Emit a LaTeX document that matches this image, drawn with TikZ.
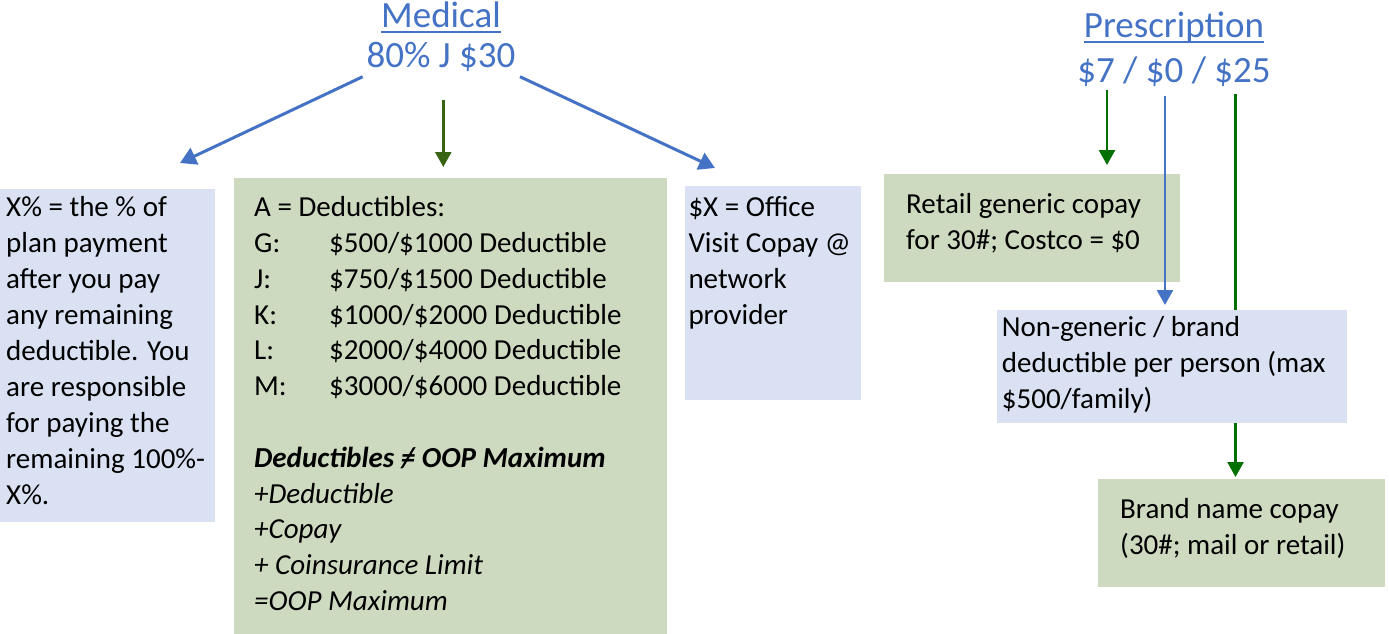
\documentclass[tikz,border=0pt]{standalone}
\usepackage{fontspec}
\setmainfont{Carlito}
\usetikzlibrary{arrows.meta}
\definecolor{mblue}{RGB}{68,114,196}
\definecolor{boxblue}{RGB}{217,225,242}
\definecolor{boxgreen}{RGB}{206,218,192}
\definecolor{dgreen}{RGB}{56,100,20}
\definecolor{rgreen}{RGB}{0,112,0}
\newcommand\myul[1]{\leavevmode\setbox0\hbox{#1}\rlap{\rule[-6pt]{\wd0}{2pt}}\box0}
\newcommand\myneq{\ooalign{=\cr\hfil/\hfil}}
\begin{document}
\begin{tikzpicture}[x=1pt,y=-1pt,
  bluebox/.style={fill=boxblue, draw=none, anchor=north west, inner sep=0pt},
  greenbox/.style={fill=boxgreen, draw=none, anchor=north west, inner sep=0pt},
  body/.style={anchor=base west, inner sep=0pt, text=black, font=\fontsize{29}{36}\selectfont},
  title/.style={anchor=base, inner sep=0pt, text=mblue},
  barr/.style={draw=mblue, line width=3pt, -{Triangle[width=18pt,length=16pt]}},
  garr/.style={draw=dgreen, line width=2.5pt, -{Triangle[width=16pt,length=15pt]}},
  rarr/.style={draw=rgreen, line width=2.5pt, -{Triangle[width=16pt,length=15pt]}},
  rbarr/.style={draw=mblue, line width=2.5pt, -{Triangle[width=16pt,length=15pt]}},
  rline/.style={draw=rgreen, line width=2.5pt},
]
\useasboundingbox (0,0) rectangle (1389,634);

% titles
\node[title, font=\fontsize{37}{40}\selectfont] (med) at (441,27.3)
  {\parbox[t]{240pt}{\centering\myul{Medical}\\80\% J \$30}};
\node[title, font=\fontsize{37}{45.7}\selectfont] (rx) at (1174,37.3)
  {\parbox[t]{260pt}{\centering\myul{Prescription}\\\$7 / \$0 / \$25}};

% boxes
\node[bluebox, minimum width=215pt, minimum height=333.4pt] (b1) at (0,188.3) {};
\node[greenbox, minimum width=433pt, minimum height=457pt] (b2) at (234,177.3) {};
\node[bluebox, minimum width=176pt, minimum height=214pt] (b3) at (685,186) {};
\node[greenbox, minimum width=296pt, minimum height=107.7pt] (b4) at (884,174) {};
\node[bluebox, minimum width=350.3pt, minimum height=113pt] (b5) at (996.7,310) {};
\node[greenbox, minimum width=287pt, minimum height=108pt] (b6) at (1098,478.5) {};

% texts
\node[body] (t1) at (6,216.7) {\parbox[t]{209pt}{X\% = the \% of\\plan payment\\after you pay\\any remaining\\deductible. You\\are responsible\\for paying the\\remaining 100\%-\\X\%.}};
\node[body, font=\fontsize{29}{35.8}\selectfont] (t2) at (254,216.7) {\parbox[t]{410pt}{A = Deductibles:\\
\makebox[75pt][l]{G:}\$500/\$1000 Deductible\\
\makebox[75pt][l]{J:}\$750/\$1500 Deductible\\
\makebox[75pt][l]{K:}\$1000/\$2000 Deductible\\
\makebox[75pt][l]{L:}\$2000/\$4000 Deductible\\
\makebox[75pt][l]{M:}\$3000/\$6000 Deductible\\
\mbox{}\\
\textbf{\textit{Deductibles \myneq{} OOP Maximum}}\\
\textit{+Deductible}\\
\textit{+Copay}\\
\textit{+ Coinsurance Limit}\\
\textit{=OOP Maximum}}};
\node[body] (t3) at (688.3,216.7) {\parbox[t]{172pt}{\$X = Office\\Visit Copay @\\network\\provider}};
\node[body] (t4) at (906,213.3) {\parbox[t]{272pt}{Retail generic copay\\for 30\#; Costco = \$0}};
\node[body] (t5) at (1001.7,336.7) {\parbox[t]{345pt}{Non-generic / brand\\deductible per person (max\\\$500/family)}};
\node[body] (t6) at (1120,518) {\parbox[t]{262pt}{Brand name copay\\(30\#; mail or retail)}};

% connector end points
\coordinate (ms1) at (362.7,76.7);
\coordinate (me1) at (180,163);
\coordinate (ms2) at (443.3,100);
\coordinate (me2) at (443.3,167);
\coordinate (ms3) at (520,76.7);
\coordinate (me3) at (715,168);
\coordinate (rs1) at (1107,90);
\coordinate (re1) at (1107,165);
\coordinate (rs2) at (1165,96);
\coordinate (re2) at (1165,305);
\coordinate (rs3) at (1235.5,94);
\coordinate (re3) at (1235.5,310);
\coordinate (rs4) at (1235.5,423);
\coordinate (re4) at (1235.5,477);

\draw[barr] (ms1) -- (me1);
\draw[garr] (ms2) -- (me2);
\draw[barr] (ms3) -- (me3);
\draw[rarr] (rs1) -- (re1);
\draw[rbarr] (rs2) -- (re2);
\draw[rline] (rs3) -- (re3);
\draw[rarr] (rs4) -- (re4);
\end{tikzpicture}
\end{document}
